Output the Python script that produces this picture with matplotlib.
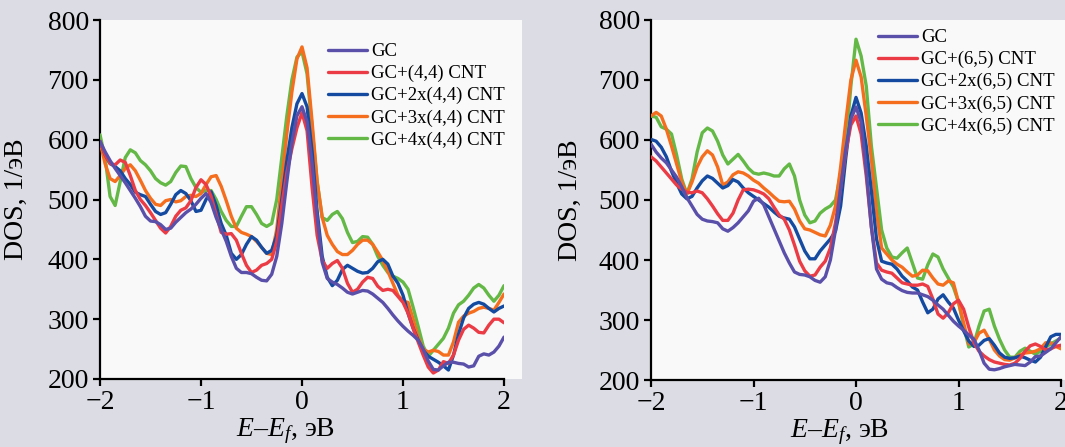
import numpy as np
import matplotlib
matplotlib.use("Agg")
import matplotlib.pyplot as plt
from matplotlib.patches import Rectangle

plt.rcParams['font.family'] = ['Liberation Serif', 'DejaVu Serif']
plt.rcParams['mathtext.fontset'] = 'custom'
plt.rcParams['mathtext.rm'] = 'Liberation Serif'
plt.rcParams['mathtext.it'] = 'Liberation Serif:italic'

# energy grid (eV), sampled every 0.05 eV
energy = np.linspace(-2.0, 2.0, 81)

# ---------- left panel: (4,4) CNT ----------
left_gc = [597, 580, 565, 552, 540, 528, 515, 502, 488, 472, 464, 463, 458, 450, 452, 462, 470, 478, 484, 492,
           502, 510, 495, 470, 450, 430, 405, 385, 378, 378, 376, 370, 365, 364, 375, 405, 460, 530, 595, 640,
           655, 630, 560, 470, 395, 368, 362, 358, 352, 345, 342, 345, 348, 347, 342, 335, 328, 318, 307, 297,
           288, 280, 273, 265, 250, 230, 216, 215, 222, 228, 228, 226, 225, 220, 222, 238, 242, 240, 245, 255, 270]
left_1x = [597, 575, 560, 558, 566, 562, 540, 515, 500, 490, 478, 465, 452, 444, 455, 472, 482, 486, 498, 520,
           533, 525, 505, 475, 445, 442, 443, 432, 410, 390, 378, 382, 390, 393, 400, 430, 490, 545, 585, 620,
           645, 615, 520, 440, 398, 385, 393, 398, 385, 360, 345, 350, 362, 370, 368, 355, 348, 350, 348, 338,
           328, 310, 285, 262, 240, 220, 210, 215, 229, 226, 240, 265, 283, 290, 285, 278, 277, 290, 300, 300, 294]
left_2x = [597, 575, 560, 555, 548, 535, 525, 512, 508, 505, 492, 480, 475, 478, 492, 508, 515, 510, 498, 480,
           482, 500, 513, 490, 460, 440, 410, 400, 408, 425, 438, 432, 420, 410, 415, 440, 500, 565, 620, 660,
           677, 655, 580, 480, 405, 370, 356, 365, 383, 390, 385, 380, 377, 378, 385, 396, 400, 392, 372, 360,
           340, 310, 285, 265, 248, 238, 233, 228, 222, 215, 240, 275, 302, 318, 325, 328, 325, 318, 312, 318, 322]
left_3x = [597, 560, 535, 530, 540, 552, 558, 548, 532, 515, 502, 492, 490, 498, 500, 496, 498, 505, 507, 505,
           510, 525, 538, 540, 522, 498, 472, 452, 445, 442, 438, 430, 420, 410, 408, 450, 530, 610, 680, 735,
           755, 720, 630, 530, 470, 440, 425, 413, 408, 408, 415, 425, 432, 432, 425, 412, 398, 380, 360, 340,
           330, 328, 300, 270, 250, 245, 248, 246, 240, 240, 262, 295, 305, 310, 313, 318, 320, 318, 315, 328, 342]
left_4x = [608, 570, 505, 490, 530, 570, 583, 578, 565, 558, 548, 535, 528, 524, 530, 545, 556, 555, 535, 520,
           512, 515, 515, 500, 480, 465, 455, 455, 472, 488, 488, 475, 460, 455, 460, 500, 570, 640, 700, 738,
           747, 710, 620, 530, 470, 465, 475, 480, 468, 445, 428, 430, 438, 437, 425, 405, 390, 378, 372, 368,
           362, 350, 320, 288, 255, 238, 248, 258, 268, 285, 310, 324, 330, 340, 352, 358, 352, 340, 330, 340, 356]

# ---------- right panel: (6,5) CNT ----------
right_gc = [593, 580, 570, 562, 550, 538, 522, 504, 490, 476, 468, 465, 464, 462, 452, 448, 454, 462, 472, 482,
            498, 503, 492, 472, 452, 432, 412, 395, 380, 376, 375, 372, 366, 363, 372, 400, 450, 520, 585, 635,
            655, 630, 550, 455, 385, 368, 362, 360, 354, 349, 346, 345, 345, 342, 339, 333, 325, 318, 308, 298,
            290, 283, 275, 268, 250, 228, 218, 217, 219, 222, 224, 226, 225, 224, 230, 239, 240, 246, 252, 262, 272]
right_1x = [572, 565, 555, 545, 535, 525, 518, 513, 512, 515, 512, 502, 490, 477, 466, 466, 478, 500, 517, 518,
            517, 514, 510, 502, 488, 475, 468, 450, 425, 398, 382, 373, 375, 388, 398, 420, 462, 520, 580, 625,
            640, 610, 540, 455, 395, 383, 380, 378, 370, 362, 360, 358, 358, 360, 356, 335, 310, 303, 312, 327,
            333, 318, 288, 262, 248, 240, 234, 230, 228, 226, 225, 228, 236, 248, 257, 260, 256, 250, 252, 256, 258]
right_2x = [601, 598, 588, 572, 548, 528, 510, 502, 506, 520, 532, 540, 536, 528, 520, 524, 534, 530, 520, 512,
            506, 500, 494, 488, 480, 473, 470, 468, 455, 435, 415, 402, 402, 415, 425, 435, 448, 490, 570, 640,
            671, 645, 590, 515, 435, 398, 395, 393, 385, 373, 365, 355, 350, 330, 312, 318, 335, 342, 330, 320,
            300, 282, 265, 256, 258, 266, 269, 258, 245, 238, 236, 237, 240, 237, 233, 230, 238, 255, 272, 276, 276]
right_3x = [640, 646, 640, 618, 590, 560, 530, 510, 530, 555, 572, 582, 575, 555, 525, 530, 542, 547, 545, 540,
            533, 528, 520, 513, 505, 498, 497, 498, 485, 465, 452, 450, 446, 442, 440, 458, 490, 555, 630, 700,
            733, 705, 640, 568, 480, 420, 410, 400, 393, 388, 380, 373, 375, 383, 382, 370, 360, 358, 365, 362,
            330, 295, 260, 262, 278, 283, 268, 250, 240, 234, 233, 237, 242, 245, 246, 248, 252, 262, 262, 256, 252]
right_4x = [640, 638, 622, 618, 610, 575, 535, 510, 535, 580, 612, 620, 615, 598, 575, 560, 568, 576, 565, 553,
            545, 543, 545, 543, 540, 540, 552, 560, 540, 500, 475, 462, 465, 478, 485, 490, 500, 545, 590, 690,
            768, 740, 690, 590, 520, 450, 420, 405, 403, 412, 420, 395, 370, 368, 392, 410, 405, 385, 370, 355,
            330, 290, 255, 260, 290, 315, 318, 290, 268, 250, 238, 238, 248, 253, 248, 243, 248, 255, 260, 265, 270]

labels_left = ["GC", "GC+(4,4) CNT", "GC+2x(4,4) CNT", "GC+3x(4,4) CNT", "GC+4x(4,4) CNT"]
labels_right = ["GC", "GC+(6,5) CNT", "GC+2x(6,5) CNT", "GC+3x(6,5) CNT", "GC+4x(6,5) CNT"]
colors = ["#5a50aa", "#eb3c46", "#144ba0", "#f56e1e", "#64b946"]

xticks = [-2, -1, 0, 1, 2]
yticks = [200, 300, 400, 500, 600, 700, 800]

W, H = 1065, 447
fig = plt.figure(figsize=(W / 100, H / 100), dpi=100, facecolor="#dcdde4")

def px_rect(x0, y0, x1, y1):
    return [x0 / W, 1 - y1 / H, (x1 - x0) / W, (y1 - y0) / H]

# white backdrops behind plot areas
for (x0, y0, x1, y1) in [(100, 20, 522, 379), (651, 20, 1065, 380)]:
    fig.patches.append(Rectangle((x0 / W, 1 - y1 / H), (x1 - x0) / W, (y1 - y0) / H,
                                 transform=fig.transFigure, facecolor="#f9f9fa",
                                 edgecolor="none", zorder=-10))

ax1 = fig.add_axes(px_rect(100, 20, 504, 379))
ax2 = fig.add_axes(px_rect(651, 20, 1061, 380))

panels = [
    (ax1, [left_gc, left_1x, left_2x, left_3x, left_4x], labels_left, (328, 43)),
    (ax2, [right_gc, right_1x, right_2x, right_3x, right_4x], labels_right, (878, 29)),
]

for ax, series, labels, (lx, ly) in panels:
    ax.set_facecolor("none")
    ax.set_zorder(1)
    lines = []
    for i in range(len(series) - 1, -1, -1):
        ln, = ax.plot(energy, series[i], color=colors[i], lw=2.4, label=labels[i],
                      solid_capstyle="round", solid_joinstyle="round",
                      zorder=3 + (len(series) - i))
        lines.append(ln)
    lines = lines[::-1]
    ax.set_xlim(-2, 2)
    ax.set_ylim(200, 800)
    ax.set_xticks(xticks)
    ax.set_yticks(yticks)
    ax.set_xticklabels(["\u22122", "\u22121", "0", "1", "2"])
    for s in ["top", "right"]:
        ax.spines[s].set_visible(False)
    for s in ["left", "bottom"]:
        ax.spines[s].set_linewidth(1.6)
        ax.spines[s].set_color("black")
    ax.tick_params(direction="out", length=5, width=1.6, labelsize=20, pad=3, colors="black")
    ax.set_ylabel("DOS, 1/эВ", fontsize=20)
    ax.set_xlabel("$E$\u2013$E_{f}$, эВ", fontsize=20)
    ax.xaxis.set_label_coords(0.46, -0.105)
    ax.legend(lines, labels, loc="upper left",
              bbox_to_anchor=(lx / W, 1 - ly / H), bbox_transform=fig.transFigure,
              frameon=False, fontsize=13.5, handlelength=2.1, handletextpad=0.2,
              labelspacing=0.26, borderpad=0, borderaxespad=0)

ax1.yaxis.set_label_coords(-0.175, 0.5)
ax2.yaxis.set_label_coords(-0.165, 0.5)

fig.savefig("out.png", dpi=100, facecolor=fig.get_facecolor())
